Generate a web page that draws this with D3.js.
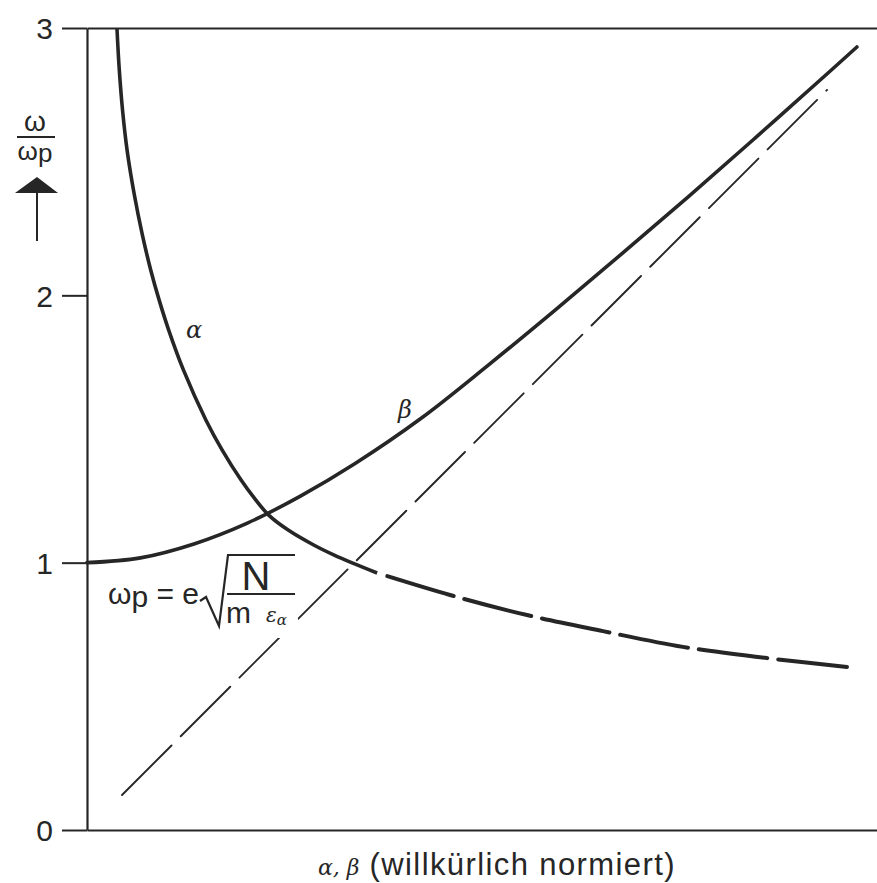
<!DOCTYPE html>
<html>
<head>
<meta charset="utf-8">
<script src="https://cdn.jsdelivr.net/npm/d3@7"></script>
<style>
  html, body { margin: 0; padding: 0; background: #fff; }
  svg { display: block; }
  .tick text { font-family: "Liberation Sans", "DejaVu Sans", sans-serif; }
</style>
</head>
<body>
<svg id="chart" width="877" height="883"></svg>
<script>
// ω/ωp over the normalised attenuation α and phase constant β
const yTicks = [0, 1, 2, 3];

// α branch (ω/ωp against α)
const alphaX = [0.112, 0.1208, 0.1332, 0.1500, 0.1769, 0.2069, 0.2383, 0.2697, 0.3056, 0.3610, 0.4451, 0.5058, 0.5764, 0.6254, 0.6797, 0.7526, 0.8480, 0.9228, 0.9917, 1.0852, 1.358, 1.646, 1.930, 2.229, 2.544, 2.843];
const alphaY = [3.000, 2.843, 2.690, 2.543, 2.377, 2.227, 2.095, 1.983, 1.870, 1.720, 1.533, 1.421, 1.309, 1.242, 1.178, 1.122, 1.066, 1.029, 0.999, 0.9614, 0.879, 0.804, 0.744, 0.685, 0.643, 0.610];
// beyond this α the branch is drawn dashed
const alphaDashFrom = 1.0852;

// β branch (ω/ωp against β)
const betaX = [0.00, 0.20, 0.40, 0.60, 0.80, 1.00, 1.25, 1.50, 1.75, 2.00, 2.25, 2.50, 2.75, 2.88];
const betaY = [1.000, 1.018, 1.070, 1.148, 1.250, 1.369, 1.540, 1.738, 1.944, 2.155, 2.369, 2.589, 2.812, 2.929];

// asymptote ω = c·β
const asymX = [0.131, 2.768];
const asymY = [0.131, 2.768];

const svg = d3.select("#chart");
const ink = "#262626";

const x = d3.scaleLinear().domain([0, 3]).range([87, 87 + 3 * 267.33]);
const y = d3.scaleLinear().domain([0, 3]).range([830, 28]);

// left axis with outward ticks
const yAxis = d3.axisLeft(y).tickValues(yTicks).tickSize(25).tickSizeOuter(0).tickPadding(9).tickFormat(d3.format("d"));
const gy = svg.append("g").attr("transform", `translate(${x(0)},0)`).call(yAxis);
gy.select(".domain").attr("stroke", ink).attr("stroke-width", 2.2);
gy.selectAll(".tick line").attr("stroke", ink).attr("stroke-width", 2);
gy.selectAll(".tick text").attr("font-size", 30).attr("fill", ink).attr("dy", "0.36em");

// bottom and top frame lines
const xAxis = d3.axisBottom(x).tickValues([]).tickSizeOuter(0);
const gx = svg.append("g").attr("transform", `translate(0,${y(0)})`).call(xAxis);
gx.select(".domain").attr("stroke", ink).attr("stroke-width", 2.2);
const xTop = d3.axisTop(x).tickValues([]).tickSizeOuter(0);
const gt = svg.append("g").attr("transform", `translate(0,${y(3)})`).call(xTop);
gt.select(".domain").attr("stroke", ink).attr("stroke-width", 2);

const line = d3.line().x(d => x(d[0])).y(d => y(d[1])).curve(d3.curveCatmullRom.alpha(0.5));

// asymptote, thin dashed
svg.append("path")
  .datum(d3.zip(asymX, asymY))
  .attr("d", d3.line().x(d => x(d[0])).y(d => y(d[1])))
  .attr("fill", "none").attr("stroke", ink).attr("stroke-width", 1.9)
  .attr("stroke-dasharray", "70 13").attr("stroke-linecap", "round");

// β branch
svg.append("path")
  .datum(d3.zip(betaX, betaY))
  .attr("d", line)
  .attr("fill", "none").attr("stroke", ink).attr("stroke-width", 3.6).attr("stroke-linecap", "round");

// α branch: solid part, then dashed continuation
const alphaPts = d3.zip(alphaX, alphaY);
svg.append("path")
  .datum(alphaPts.filter(d => d[0] <= alphaDashFrom))
  .attr("d", line)
  .attr("fill", "none").attr("stroke", ink).attr("stroke-width", 3.6);
svg.append("path")
  .datum(alphaPts.filter(d => d[0] >= alphaDashFrom))
  .attr("d", line)
  .attr("fill", "none").attr("stroke", ink).attr("stroke-width", 4)
  .attr("stroke-dasharray", "69 11").attr("stroke-dashoffset", 69).attr("stroke-linecap", "round");

// curve labels
const serifIt = "'DejaVu Serif', 'Liberation Serif', serif";
svg.append("text").attr("x", 186).attr("y", 338).attr("font-family", serifIt).attr("font-style", "italic")
  .attr("font-size", 24).attr("fill", ink).text("α");
svg.append("text").attr("x", 398).attr("y", 418).attr("font-family", serifIt).attr("font-style", "italic")
  .attr("font-size", 24).attr("fill", ink).text("β");

// y-axis quantity ω/ωp with upward arrow
const sans = "'Liberation Sans', 'DejaVu Sans', sans-serif";
const yl = svg.append("g").attr("fill", ink).attr("font-family", sans);
yl.append("text").attr("x", 35).attr("y", 131).attr("text-anchor", "middle").attr("font-size", 28).text("ω");
yl.append("line").attr("x1", 17).attr("x2", 55).attr("y1", 137).attr("y2", 137).attr("stroke", ink).attr("stroke-width", 2);
const wp = yl.append("text").attr("x", 35).attr("y", 160).attr("text-anchor", "middle").attr("font-size", 26);
wp.append("tspan").text("ω");
wp.append("tspan").attr("font-size", 26).attr("dy", 2).text("p");
yl.append("path").attr("d", "M15,193 L58,193 L37,177 Z").attr("fill", ink);
yl.append("line").attr("x1", 37).attr("x2", 37).attr("y1", 193).attr("y2", 241).attr("stroke", ink).attr("stroke-width", 2);

// plasma frequency formula
const f = svg.append("g").attr("fill", ink).attr("font-family", sans);
f.append("rect").attr("x", 222).attr("y", 598).attr("width", 76).attr("height", 40).attr("fill", "#fff");
const lhs = f.append("text").attr("x", 108).attr("y", 604).attr("font-size", 30);
lhs.append("tspan").text("ω");
lhs.append("tspan").attr("dy", 3).text("p");
lhs.append("tspan").attr("dy", -3).text(" = e");
f.append("path").attr("d", "M200,601 L206,597 L219,626 L228,555 L295,555")
  .attr("fill", "none").attr("stroke", ink).attr("stroke-width", 2.2).attr("stroke-linejoin", "miter");
f.append("text").attr("x", 256).attr("y", 590).attr("text-anchor", "middle").attr("font-size", 40).text("N");
f.append("line").attr("x1", 227).attr("x2", 295).attr("y1", 594).attr("y2", 594).attr("stroke", ink).attr("stroke-width", 2.2);
f.append("text").attr("x", 226).attr("y", 623).attr("font-size", 30).text("m");
const eps = f.append("text").attr("x", 266).attr("y", 622).attr("font-family", serifIt).attr("font-style", "italic").attr("font-size", 20);
eps.append("tspan").text("ε");
eps.append("tspan").attr("font-size", 15).attr("dy", 3).text("α");

// x-axis quantity
const xl = svg.append("text").attr("x", 318).attr("y", 875).attr("fill", ink).attr("font-family", sans).attr("font-size", 31);
xl.append("tspan").attr("font-family", serifIt).attr("font-style", "italic").attr("font-size", 22).text("α, β");
xl.append("tspan").attr("letter-spacing", 1.4).text(" (willkürlich normiert)");
</script>
</body>
</html>
